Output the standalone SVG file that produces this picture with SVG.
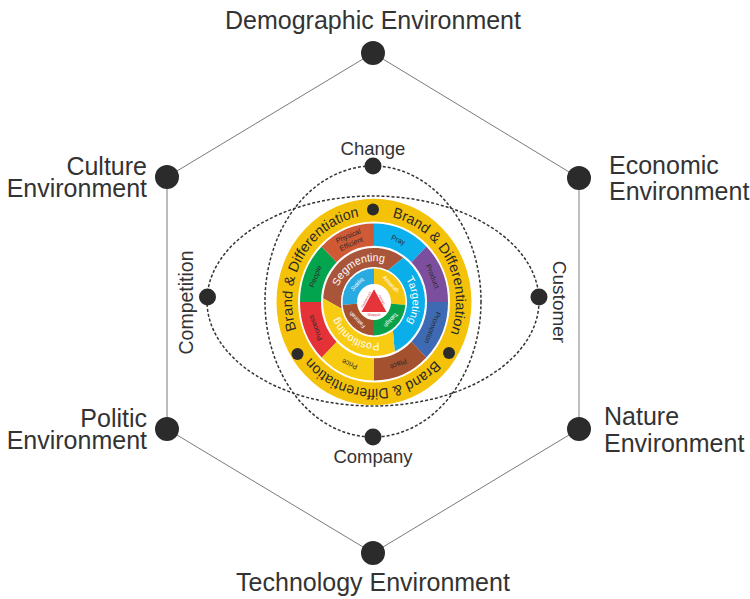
<svg xmlns="http://www.w3.org/2000/svg" width="750" height="599" viewBox="0 0 750 599">
<style>
.lbl{font-family:"Liberation Sans",Arial,sans-serif;fill:#333}
.big{font-size:25px}
.mid{font-size:19px}
.dot{fill:#2b2b2b}
.hex{stroke:#7a7a7a;stroke-width:1;fill:none}
.dash{stroke:#333;stroke-width:1.5;stroke-dasharray:3 2;fill:none}
.pt{font-family:"Liberation Sans",Arial,sans-serif;font-size:7px;fill:#2a2a2a;text-anchor:middle}
.bd{font-family:"Liberation Sans",Arial,sans-serif;font-size:14px;fill:#2a2a2a;text-anchor:middle}
.stp{font-family:"Liberation Sans",Arial,sans-serif;font-size:10.5px;fill:#fff;text-anchor:middle}
.q{font-family:"Liberation Sans",Arial,sans-serif;font-size:5.5px;fill:#fff;text-anchor:middle}
.tri{font-family:"Liberation Sans",Arial,sans-serif;font-size:3.2px;fill:#e5343a;text-anchor:middle}
</style>
<defs>
<path id="ringPath" d="M0,-82 A82,82 0 1 1 0,82 A82,82 0 1 1 0,-82 A82,82 0 1 1 0,82 A82,82 0 1 1 0,-82"/>
<path id="stpPath" d="M0,-38.5 A38.5,38.5 0 1 1 0,38.5 A38.5,38.5 0 1 1 0,-38.5 A38.5,38.5 0 1 1 0,38.5 A38.5,38.5 0 1 1 0,-38.5"/>
</defs>
<rect width="750" height="599" fill="#fff"/>

<g id="connectors">
<line class="hex" x1="373" y1="53" x2="167" y2="177"/>
<line class="hex" x1="167" y1="177" x2="167" y2="429"/>
<line class="hex" x1="167" y1="429" x2="373" y2="553"/>
<line class="hex" x1="373" y1="553" x2="579" y2="429"/>
<line class="hex" x1="579" y1="429" x2="579" y2="178" style="stroke:#aaa;stroke-width:1.5"/>
<line class="hex" x1="579" y1="178" x2="373" y2="53"/>
<ellipse class="dash" cx="373" cy="301.5" rx="108" ry="135.5"/>
<ellipse class="dash" cx="373" cy="301" rx="166" ry="105"/>
</g>

<g id="core" transform="translate(374,302) scale(1,1.06)">
<circle r="97.5" fill="#f5c20a"/>
<circle r="76" fill="#fff"/>
<g id="ring-7p">
<path d="M0,-74 A74,74 0 0 1 52.33,-52.33 L37.48,-37.48 A53,53 0 0 0 0,-53 Z" fill="#0bb0ec"/>
<path d="M52.33,-52.33 A74,74 0 0 1 74,0 L53,0 A53,53 0 0 0 37.48,-37.48 Z" fill="#7c4f9e"/>
<path d="M74,0 A74,74 0 0 1 52.33,52.33 L37.48,37.48 A53,53 0 0 0 53,0 Z" fill="#3d6ab3"/>
<path d="M52.33,52.33 A74,74 0 0 1 0,74 L0,53 A53,53 0 0 0 37.48,37.48 Z" fill="#a3512f"/>
<path d="M0,74 A74,74 0 0 1 -52.33,52.33 L-37.48,37.48 A53,53 0 0 0 0,53 Z" fill="#f7cb0f"/>
<path d="M-52.33,52.33 A74,74 0 0 1 -74,0 L-53,0 A53,53 0 0 0 -37.48,37.48 Z" fill="#e53138"/>
<path d="M-74,0 A74,74 0 0 1 -52.33,-52.33 L-37.48,-37.48 A53,53 0 0 0 -53,0 Z" fill="#03a44e"/>
<path d="M-52.33,-52.33 A74,74 0 0 1 0,-74 L0,-53 A53,53 0 0 0 -37.48,-37.48 Z" fill="#d15a36"/>
<text class="pt" transform="rotate(22.5) translate(0,-63.5)" dy="0.35em">Pray</text>
<text class="pt" transform="rotate(67.5) translate(0,-63.5)" dy="0.35em">Product</text>
<text class="pt" transform="rotate(112.5) translate(0,-63.5)" dy="0.35em">Promotion</text>
<text class="pt" transform="rotate(157.5) translate(0,-63.5)" dy="0.35em">Place</text>
<text class="pt" transform="rotate(202.5) translate(0,-63.5)" dy="0.35em">Price</text>
<text class="pt" transform="rotate(247.5) translate(0,-63.5)" dy="0.35em">Process</text>
<text class="pt" transform="rotate(292.5) translate(0,-63.5)" dy="0.35em">People</text>
<text class="pt" transform="rotate(337.5) translate(0,-67.5)" dy="0.35em">Physical</text>
<text class="pt" transform="rotate(337.5) translate(0,-59.5)" dy="0.35em">Efficient</text>
</g>
<g id="ring-stp">
<path d="M-50.88,-3.56 A51,51 0 0 1 29.25,-41.78 L13.95,-29.91 A33,33 0 0 0 -32.39,6.30 Z" fill="#a9553a"/>
<path d="M29.25,-41.78 A51,51 0 0 1 20.74,46.59 L18.93,27.03 A33,33 0 0 0 13.95,-29.91 Z" fill="#0aaee8"/>
<path d="M20.74,46.59 A51,51 0 0 1 -50.88,-3.56 L-32.39,6.30 A33,33 0 0 0 18.93,27.03 Z" fill="#f7cc12"/>
<text class="stp"><textPath href="#stpPath" startOffset="223.8">Segmenting</textPath></text>
<text class="stp"><textPath href="#stpPath" startOffset="59.1">Targeting</textPath></text>
<text class="stp"><textPath href="#stpPath" startOffset="141.1">Positioning</textPath></text>
</g>
<g id="ring-values">
<circle r="32.5" fill="#fff"/>
<path d="M0,0 L-31.38,2.75 A31.5,31.5 0 0 1 0,-31.5 Z" fill="#29aae1"/>
<path d="M0,0 L0,-31.5 A31.5,31.5 0 0 1 31.38,2.75 Z" fill="#f6c512"/>
<path d="M0,0 L31.38,2.75 A31.5,31.5 0 0 1 0,31.5 Z" fill="#0aa14b"/>
<path d="M0,0 L0,31.5 A31.5,31.5 0 0 1 -31.38,2.75 Z" fill="#a5502f"/>
<text class="q" transform="rotate(315) translate(0,-24)" dy="0.35em">Siddiq</text>
<text class="q" transform="rotate(45) translate(0,-24)" dy="0.35em">Amanah</text>
<text class="q" transform="rotate(135) translate(0,-24)" dy="0.35em">Tabligh</text>
<text class="q" transform="rotate(225) translate(0,-24)" dy="0.35em">Fatonah</text>
</g>
<g id="center-triangle">
<circle r="17" fill="#fff"/>
<polygon points="0,-12 -12.5,9.5 12.5,9.5" fill="#e5343a"/>
<text class="tri" transform="translate(-6.95,-1.65) rotate(-60)">Rabbaniyah</text>
<text class="tri" transform="translate(6.95,-1.65) rotate(60)">Akhlaq</text>
<text class="tri" x="0" y="13.2">Waqiiyah</text>
</g>
<g id="ring-brand">
<text class="bd"><textPath href="#ringPath" startOffset="429.3">Brand &amp; Differentiation</textPath></text>
<text class="bd"><textPath href="#ringPath" startOffset="88.7">Brand &amp; Differentiation</textPath></text>
<text class="bd"><textPath href="#ringPath" startOffset="259">Brand &amp; Differentiation</textPath></text>
</g>
</g>
<g id="ring-dots">
<circle class="dot" cx="373" cy="209.5" r="6"/>
<circle class="dot" cx="297.5" cy="354" r="6"/>
<circle class="dot" cx="449" cy="353" r="6"/>
</g>

<g id="node-demographic">
<circle class="dot" cx="373" cy="53" r="12"/>
<text class="lbl big" x="373" y="29" text-anchor="middle">Demographic Environment</text>
</g>
<g id="node-economic">
<circle class="dot" cx="579" cy="178" r="12"/>
<text class="lbl big" x="609" y="174">Economic</text>
<text class="lbl big" x="609" y="200">Environment</text>
</g>
<g id="node-nature">
<circle class="dot" cx="579" cy="429" r="12"/>
<text class="lbl big" x="604" y="425">Nature</text>
<text class="lbl big" x="604" y="452">Environment</text>
</g>
<g id="node-technology">
<circle class="dot" cx="373" cy="553" r="12"/>
<text class="lbl big" x="373" y="591" text-anchor="middle">Technology Environment</text>
</g>
<g id="node-politic">
<circle class="dot" cx="167" cy="429" r="12"/>
<text class="lbl big" x="147" y="427" text-anchor="end">Politic</text>
<text class="lbl big" x="147" y="449" text-anchor="end">Environment</text>
</g>
<g id="node-culture">
<circle class="dot" cx="167" cy="177" r="12"/>
<text class="lbl big" x="147" y="175" text-anchor="end">Culture</text>
<text class="lbl big" x="147" y="197" text-anchor="end">Environment</text>
</g>
<g id="node-change">
<circle class="dot" cx="373" cy="166" r="8.5"/>
<text class="lbl mid" x="373" y="155" text-anchor="middle" style="font-size:18.5px">Change</text>
</g>
<g id="node-company">
<circle class="dot" cx="373" cy="437" r="8.5"/>
<text class="lbl mid" x="373" y="463" text-anchor="middle" style="font-size:18.5px">Company</text>
</g>
<g id="node-competition">
<circle class="dot" cx="207.5" cy="297" r="8.5"/>
<text class="lbl mid" transform="translate(193,302.5) rotate(-90)" text-anchor="middle" style="font-size:19.5px">Competition</text>
</g>
<g id="node-customer">
<circle class="dot" cx="539" cy="297" r="8.5"/>
<text class="lbl mid" transform="translate(553,302) rotate(90)" text-anchor="middle">Customer</text>
</g>
</svg>
